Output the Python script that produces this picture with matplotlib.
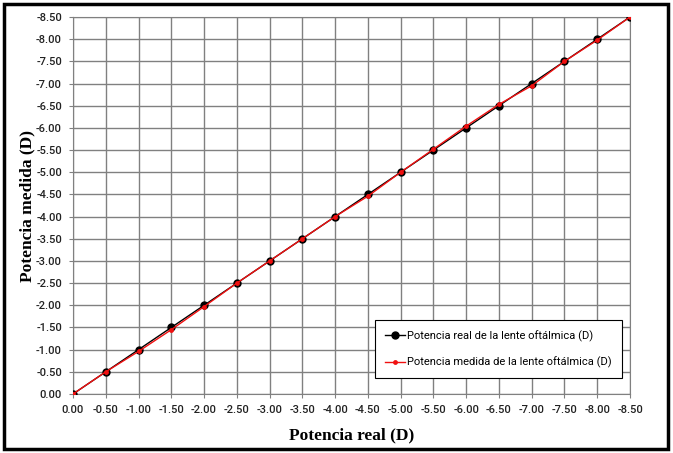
import numpy as np
import matplotlib.pyplot as plt
from matplotlib.patches import Rectangle

# datos
potencia_real = [0.00, -0.50, -1.00, -1.50, -2.00, -2.50, -3.00, -3.50, -4.00,
                 -4.50, -5.00, -5.50, -6.00, -6.50, -7.00, -7.50, -8.00, -8.50]
potencia_medida = [0.00, -0.50, -0.96, -1.45, -1.97, -2.50, -3.00, -3.50, -4.00,
                   -4.46, -5.00, -5.52, -6.04, -6.53, -6.95, -7.50, -7.98, -8.50]
ticks = np.arange(0, -8.51, -0.5)

fuente = 'Roboto'

fig = plt.figure(figsize=(6.73, 4.53), dpi=100)
ax = fig.add_axes([73/673, 59/453, 557/673, 377/453])

ax.plot(potencia_real, potencia_real, color='black', lw=1, marker='o', ms=5,
        label='Potencia real de la lente oftálmica (D)', zorder=3)
ax.plot(potencia_real, potencia_medida, color='#f01010', lw=1, marker='o', ms=3.5,
        markeredgewidth=0, label='Potencia medida de la lente oftálmica (D)', zorder=4)

ax.set_xlim(0, -8.5)
ax.set_ylim(0, -8.5)
ax.set_xticks(ticks)
ax.set_yticks(ticks)
ax.set_xticklabels(['%.2f' % t if t != 0 else '0.00' for t in ticks])
ax.set_yticklabels(['%.2f' % t if t != 0 else '0.00' for t in ticks])
ax.tick_params(labelsize=8, length=3, color='#808080', pad=5)
for lab in ax.get_xticklabels() + ax.get_yticklabels():
    lab.set_family(fuente)
    lab.set_fontweight('medium')
    lab.set_color('#222222')
ax.grid(True, color='#808080', lw=1)
ax.set_axisbelow(True)
for s in ax.spines.values():
    s.set_color('#808080')

ax.set_xlabel('Potencia real (D)', family='Liberation Serif', fontweight='bold',
              fontsize=12.5)
ax.set_ylabel('Potencia medida (D)', family='Liberation Serif', fontweight='bold',
              fontsize=12.5)
ax.xaxis.set_label_coords(0.5, -0.088)
ax.yaxis.set_label_coords(-0.068, 0.5)

leg = ax.legend(loc='lower right', bbox_to_anchor=(0.9856, 0.042), borderaxespad=0,
                prop={'family': fuente, 'size': 8},
                frameon=True, fancybox=False, edgecolor='black', framealpha=1,
                labelspacing=1.35, handlelength=1.8, handletextpad=0.2, borderpad=0.9)
leg.get_frame().set_linewidth(0.8)

fig.patches.append(Rectangle((4/673, 4/453), 664/673, 445/453, transform=fig.transFigure,
                             fill=False, edgecolor='black', lw=2.5))

fig.savefig('out.png', dpi=100)
